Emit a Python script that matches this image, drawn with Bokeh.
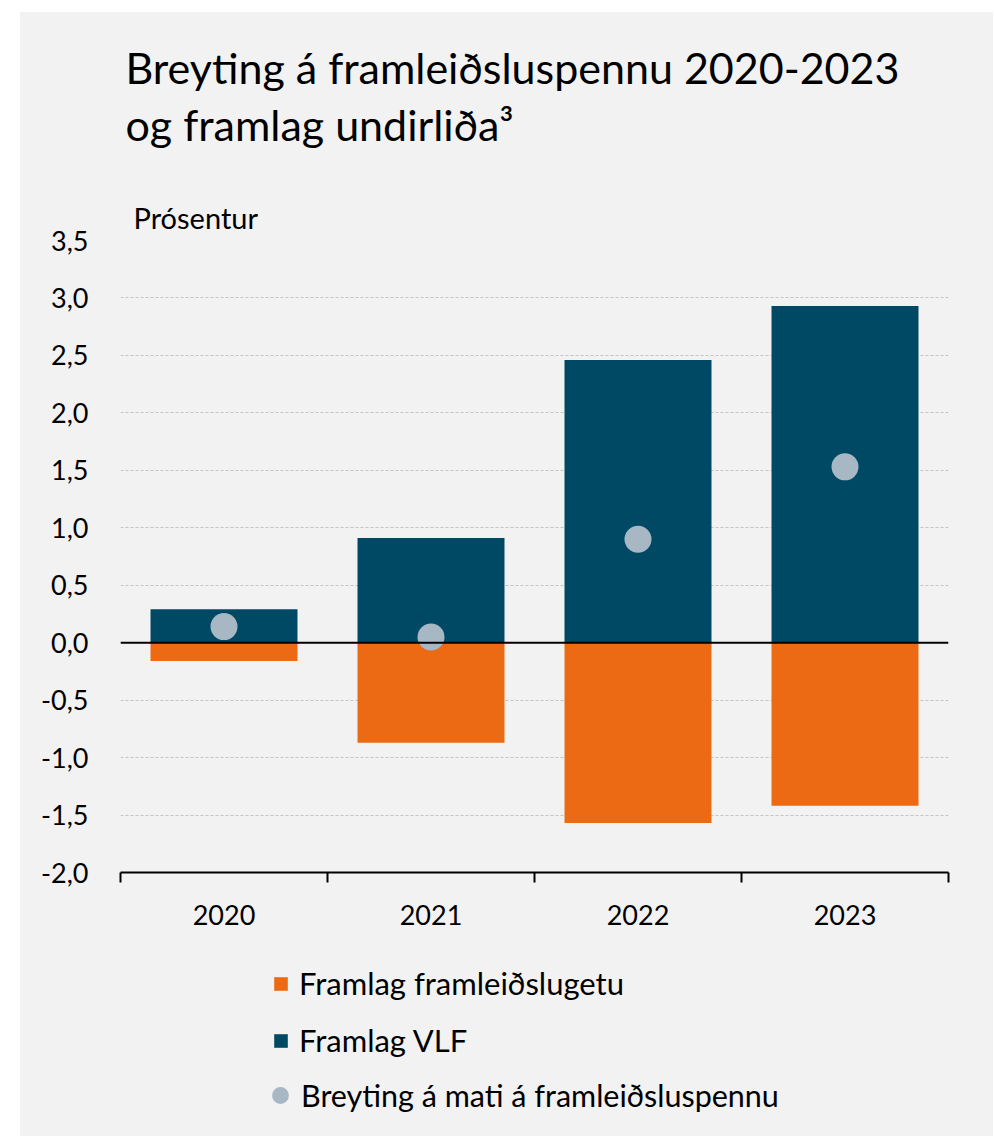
from bokeh.plotting import figure
from bokeh.models import (ColumnDataSource, FixedTicker, Span, Label, Legend, LegendItem, Range1d, Spacer, Title)
from bokeh.layouts import row, column
from bokeh.embed import file_html
from bokeh.resources import INLINE

# ---- data ----
years = ["2020", "2021", "2022", "2023"]
framlag_vlf = [0.29, 0.91, 2.46, 2.93]
framlag_getu = [-0.16, -0.87, -1.57, -1.42]
breyting_mat = [0.14, 0.05, 0.90, 1.53]
y_ticks = [-2.0, -1.5, -1.0, -0.5, 0.0, 0.5, 1.0, 1.5, 2.0, 2.5, 3.0, 3.5]
y_tick_labels = ["-2,0", "-1,5", "-1,0", "-0,5", "0,0", "0,5", "1,0", "1,5", "2,0", "2,5", "3,0", "3,5"]
series_names = ["Framlag framleiðslugetu", "Framlag VLF", "Breyting á mati á framleiðsluspennu"]
title_lines = ["Breyting á framleiðsluspennu 2020-2023", "og framlag undirliða³"]
y_unit = "Prósentur"

C_ORANGE = "#EC6A13"
C_NAVY = "#004964"
C_DOT = "#A7B8C4"
BG = "#F2F2F2"
FONT = "Lato"
W = 973
BL, FW = 100, 828
BR = W - BL - FW


def blank_fig(h):
    f = figure(width=W, height=h, output_backend="svg", toolbar_location=None,
               x_range=Range1d(0, FW), y_range=Range1d(h, 0),
               min_border_left=BL, min_border_right=BR,
               min_border_top=0, min_border_bottom=0)
    f.axis.visible = False
    f.grid.visible = False
    f.background_fill_color = BG
    f.border_fill_color = BG
    f.outline_line_color = None
    return f


# ---- header (title) ----
HH = 165
head = blank_fig(HH)
head.add_layout(Label(x=5, y=55, text=title_lines[0], text_font=FONT, text_font_size="43px",
                      text_color="black", text_baseline="alphabetic"))
head.add_layout(Label(x=5, y=112, text=title_lines[1], text_font=FONT, text_font_size="43px",
                      text_color="black", text_baseline="alphabetic"))

# ---- main chart ----
xc = [i + 0.5 for i in range(len(years))]
src = ColumnDataSource(dict(x=xc, vlf=framlag_vlf, getu=framlag_getu, mat=breyting_mat,
                            zero=[0.0] * len(years)))

TOP = 240 - 12 - HH
MH = TOP + 632 + 70
p = figure(width=W, height=MH, output_backend="svg", toolbar_location=None,
           x_range=Range1d(0, len(years)), y_range=Range1d(-2.0, 3.5),
           min_border_left=BL, min_border_right=BR, min_border_top=TOP, min_border_bottom=70)
p.background_fill_color = BG
p.border_fill_color = BG
p.outline_line_color = None
p.title = Title(text=y_unit, align="left", offset=13, standoff=12,
                text_font=FONT, text_font_size="29px", text_font_style="normal",
                text_color="black")

p.vbar(x="x", width=0.71, bottom="getu", top="zero", source=src,
       fill_color=C_ORANGE, line_color=None)
p.vbar(x="x", width=0.71, bottom="zero", top="vlf", source=src,
       fill_color=C_NAVY, line_color=None)
p.add_layout(Span(location=0, dimension="width", line_color="black", line_width=2))
p.scatter(x="x", y="mat", source=src, size=27, marker="circle",
          fill_color=C_DOT, line_color=None)

p.xgrid.grid_line_color = None
p.ygrid.ticker = FixedTicker(ticks=y_ticks)
p.ygrid.grid_line_color = "#C4C4C4"
p.ygrid.grid_line_dash = "3 2"
p.ygrid.grid_line_width = 1

ya = p.yaxis[0]
ya.ticker = FixedTicker(ticks=y_ticks)
ya.major_label_overrides = {t: l for t, l in zip(y_ticks, y_tick_labels)}
ya.axis_line_color = None
ya.major_tick_line_color = None
ya.major_tick_out = 0
ya.major_tick_in = 0
ya.minor_tick_line_color = None
ya.major_label_text_font = FONT
ya.major_label_text_font_size = "27px"
ya.major_label_text_color = "black"
ya.major_label_standoff = 32

xa = p.xaxis[0]
xa.ticker = FixedTicker(ticks=xc, minor_ticks=list(range(len(years) + 1)))
xa.major_label_overrides = {x: y for x, y in zip(xc, years)}
xa.axis_line_color = "black"
xa.axis_line_width = 2
xa.major_tick_in = 0
xa.major_tick_out = 0
xa.major_tick_line_color = None
xa.minor_tick_in = 0
xa.minor_tick_out = 10
xa.minor_tick_line_color = "black"
xa.minor_tick_line_width = 2
xa.major_label_text_font = FONT
xa.major_label_text_font_size = "27px"
xa.major_label_text_color = "black"
xa.major_label_standoff = 22

# ---- legend (proxy renderers lie outside the visible range) ----
LH = 1138 - 12 - HH - MH - 2
lg = blank_fig(LH)
r1 = lg.vbar(x=[-1000], top=[framlag_getu[0]], width=1, fill_color=C_ORANGE, line_color=None)
r2 = lg.vbar(x=[-1000], top=[framlag_vlf[0]], width=1, fill_color=C_NAVY, line_color=None)
r3 = lg.scatter(x=[-1000], y=[breyting_mat[0]], marker="circle", size=17, fill_color=C_DOT, line_color=None)

leg1 = Legend(items=[LegendItem(label=series_names[0], renderers=[r1]),
                     LegendItem(label=series_names[1], renderers=[r2])],
              location=(152, 77), orientation="vertical",
              glyph_width=17, glyph_height=17, label_height=37, spacing=19,
              label_standoff=10, padding=0, margin=0,
              border_line_color=None, background_fill_alpha=0,
              label_text_font=FONT, label_text_font_size="31px", label_text_color="black")
leg2 = Legend(items=[LegendItem(label=series_names[2], renderers=[r3])],
              location=(139, 19), orientation="vertical",
              glyph_width=42, glyph_height=44, label_height=37,
              label_standoff=0, padding=0, margin=0,
              border_line_color=None, background_fill_alpha=0,
              label_text_font=FONT, label_text_font_size="30.5px", label_text_color="black")
lg.add_layout(leg1)
lg.add_layout(leg2)

inner = column(head, p, lg, spacing=0, styles={"background-color": BG})
layout = row(Spacer(width=20), column(Spacer(height=12), inner, spacing=0), spacing=0)

open("out.html", "w").write(file_html(layout, INLINE))
